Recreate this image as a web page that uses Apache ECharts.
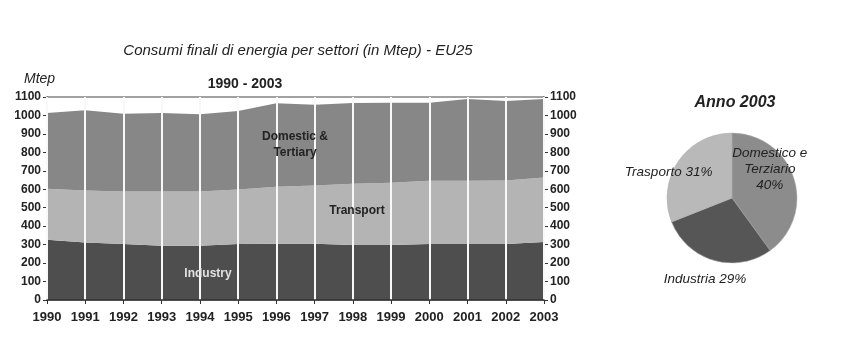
<!DOCTYPE html>
<html>
<head>
<meta charset="utf-8">
<script src="https://cdn.jsdelivr.net/npm/echarts@6/dist/echarts.min.js"></script>
<style>
  html, body { margin: 0; padding: 0; background: #fff; }
  #chart { width: 850px; height: 346px; }
</style>
</head>
<body>
<div id="chart"></div>
<script>
// Final energy consumption by sector, EU25 (Mtep)
var years = ['1990','1991','1992','1993','1994','1995','1996','1997','1998','1999','2000','2001','2002','2003'];
var industry  = [327, 312, 303, 294, 294, 303, 305, 305, 298, 298, 304, 304, 304, 314];
var transport = [276, 282, 285, 294, 294, 296, 309, 316, 332, 337, 342, 342, 344, 350];
var domestic  = [410, 434, 421, 425, 418, 425, 452, 437, 437, 434, 423, 443, 430, 425];
var yTicks = [0, 100, 200, 300, 400, 500, 600, 700, 800, 900, 1000, 1100];

// 2003 shares (%)
var pieNames  = ['Domestico e\nTerziario\n40%', 'Industria 29%', 'Trasporto 31%'];
var pieValues = [40, 29, 31];

var FONT = '"Liberation Sans", Arial, sans-serif';
var C_DOM = '#878787', C_TRA = '#b4b4b4', C_IND = '#4e4e4e';

var chart = echarts.init(document.getElementById('chart'));

var yMax = yTicks[yTicks.length - 1];
var yStep = yTicks[1] - yTicks[0];

function yAxisDef(pos) {
  return {
    type: 'value', position: pos, min: yTicks[0], max: yMax, interval: yStep,
    axisLine: { show: true, lineStyle: { color: '#333', width: 1.5 } },
    axisTick: { show: true, length: 4, lineStyle: { color: '#333' } },
    axisLabel: { color: '#222', fontFamily: FONT, fontWeight: 'bold', fontSize: 12, margin: 6,
      formatter: function (v) { return String(v); } },
    splitLine: { show: false }
  };
}

function areaSeries(name, data, color) {
  return {
    name: name, type: 'line', stack: 'total', data: data,
    symbol: 'none', lineStyle: { width: 0 },
    areaStyle: { color: color, opacity: 1 },
    itemStyle: { color: color },
    z: 2
  };
}

function areaLabel(text, x, y, fill) {
  return { type: 'text', x: x, y: y, z: 100,
    style: { text: text, fill: fill, font: 'bold 12px ' + FONT, align: 'center',
      verticalAlign: 'middle', lineHeight: 16 } };
}

chart.setOption({
  animation: false,
  backgroundColor: '#fff',
  title: [
    { text: 'Consumi finali di energia per settori (in Mtep) - EU25', left: 293, top: 38, textAlign: 'center',
      textStyle: { fontFamily: FONT, fontStyle: 'italic', fontWeight: 'normal', fontSize: 15, color: '#222' } },
    { text: 'Mtep', left: 19, top: 67,
      textStyle: { fontFamily: FONT, fontStyle: 'italic', fontWeight: 'normal', fontSize: 14, color: '#222' } },
    { text: '1990 - 2003', left: 240, top: 72, textAlign: 'center',
      textStyle: { fontFamily: FONT, fontWeight: 'bold', fontSize: 14, color: '#222' } },
    { text: 'Anno 2003', left: 730, top: 90, textAlign: 'center',
      textStyle: { fontFamily: FONT, fontStyle: 'italic', fontWeight: 'bold', fontSize: 16, color: '#222' } }
  ],
  grid: { left: 47, right: 306, top: 97, bottom: 46, show: true, borderColor: '#444', borderWidth: 1, backgroundColor: 'transparent' },
  xAxis: {
    type: 'category', data: years, boundaryGap: false, z: 3,
    axisLine: { show: true, lineStyle: { color: '#333', width: 1.5 } },
    axisTick: { show: true, length: 4, alignWithLabel: true, lineStyle: { color: '#333' } },
    axisLabel: { color: '#222', fontFamily: FONT, fontWeight: 'bold', fontSize: 13, margin: 11 },
    splitLine: { show: true, lineStyle: { color: '#f8f8f8', width: 2 } }
  },
  yAxis: [yAxisDef('left'), yAxisDef('right')],
  graphic: [
    areaLabel('Domestic &\nTertiary', 295, 145, '#222'),
    areaLabel('Transport', 357, 211, '#222'),
    areaLabel('Industry', 208, 274, '#e2e2e2')
  ],
  series: [
    areaSeries('Industry', industry, C_IND),
    areaSeries('Transport', transport, C_TRA),
    areaSeries('Domestic & Tertiary', domestic, C_DOM),
    {
      type: 'pie', center: [732, 198], radius: 65, startAngle: 90, clockwise: true,
      data: [
        { name: pieNames[0], value: pieValues[0], itemStyle: { color: '#8c8c8c' },
          label: { position: 'inside', offset: [4, -18] } },
        { name: pieNames[1], value: pieValues[1], itemStyle: { color: '#565656' },
          label: { position: 'inside', offset: [-17, 47] } },
        { name: pieNames[2], value: pieValues[2], itemStyle: { color: '#b9b9b9' },
          label: { position: 'inside', offset: [-34, -6] } }
      ],
      itemStyle: { borderColor: '#aaa', borderWidth: 0.5 },
      label: { formatter: '{b}', fontFamily: FONT, fontStyle: 'italic', fontSize: 13.5, color: '#222', lineHeight: 16 },
      labelLine: { show: false },
      emphasis: { disabled: true }
    }
  ]
});
</script>
</body>
</html>
